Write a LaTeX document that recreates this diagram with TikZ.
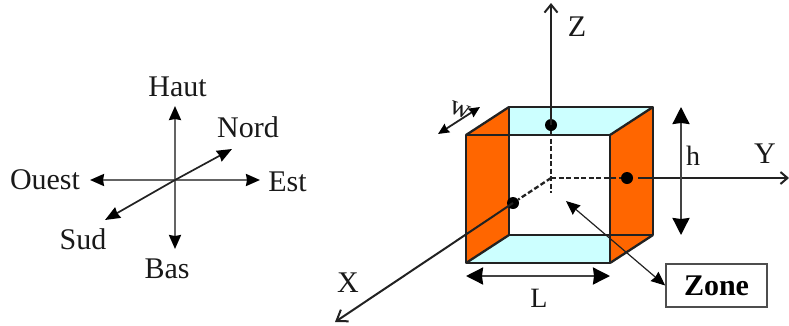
\documentclass[tikz,border=0pt]{standalone}
\usepackage{fontspec}
\setmainfont{Liberation Serif}
\usetikzlibrary{arrows.meta}
\definecolor{zorange}{HTML}{FF6600}
\definecolor{zcyan}{HTML}{CCFFFF}
\definecolor{zline}{HTML}{222222}
\tikzset{
  lbl/.style={inner sep=0pt,font=\fontsize{30}{30}\selectfont,text=black!90},
  smalllbl/.style={inner sep=0pt,font=\fontsize{28}{28}\selectfont,text=black!90},
  dimline/.style={draw=zline!85,line width=2.2pt,{Stealth[inset=1pt,length=17pt,width=17pt,black]}-{Stealth[inset=1pt,length=17pt,width=17pt,black]}},
  compass/.style={draw=zline!70,line width=2.2pt,-{Stealth[inset=1pt,length=14pt,width=12pt,black]}},
  compassdiag/.style={draw=zline,line width=1.7pt,-{Stealth[inset=1pt,length=15pt,width=12pt,black]}},
  face/.style={draw=zline,line width=2.3pt,line join=round},
  dashaxis/.style={draw=zline,line width=2.3pt,dash pattern=on 5pt off 2.5pt},
  dotnode/.style={circle,fill=black,inner sep=0pt,minimum size=12pt},
}
\begin{document}
\begin{tikzpicture}[x=1pt,y=-1pt]
\useasboundingbox (0,0) rectangle (789,325);
% compass
\coordinate (c) at (175,180);
\coordinate (ch) at (175,106);
\coordinate (cb) at (175,249);
\coordinate (co) at (90,180);
\coordinate (ce) at (260,180);
\coordinate (cn) at (232,149);
\coordinate (cs) at (105,220);
\foreach \t in {ch,cb,co,ce} \draw[compass] (c) -- (\t);
\foreach \t in {cn,cs} \draw[compassdiag] (c) -- (\t);
\node[lbl] (haut) at (177.5,86.5) {Haut};
\node[lbl] (nord) at (248,127) {Nord};
\node[lbl] (ouest) at (45,180) {Ouest};
\node[lbl] (est) at (287.5,182) {Est};
\node[lbl] (sud) at (83,239) {Sud};
\node[lbl] (bas) at (167,269) {Bas};
% box
\coordinate (bt1) at (509,107);
\coordinate (bt2) at (653,107);
\coordinate (bb1) at (509,235);
\coordinate (bb2) at (653,235);
\coordinate (ft1) at (466,135);
\coordinate (ft2) at (610,135);
\coordinate (fb1) at (466,263);
\coordinate (fb2) at (610,263);
\fill[zcyan] (bt1)--(bt2)--(ft2)--(ft1)--cycle;
\fill[zcyan] (bb1)--(bb2)--(fb2)--(fb1)--cycle;
\fill[zorange] (ft1)--(bt1)--(bb1)--(fb1)--cycle;
\fill[zorange] (ft2)--(bt2)--(bb2)--(fb2)--cycle;
\draw[face] (ft1)--(ft2)--(fb2)--(fb1)--cycle;
\draw[face] (bt1)--(bt2)--(bb2)--(bb1)--cycle;
\draw[face] (ft1)--(bt1) (ft2)--(bt2) (fb1)--(bb1) (fb2)--(bb2);
% axes
\coordinate (o) at (551,178);
\node[dotnode] (dz) at (551,125) {};
\node[dotnode] (dy) at (627,178) {};
\node[dotnode] (dx) at (513,203) {};
\coordinate (zt) at (551,3);
\coordinate (yt) at (789,178);
\coordinate (ys) at (638,178);
\coordinate (xt) at (335,322);
\coordinate (zb) at (551,193);
\draw[dashaxis] (dz) -- (zb);
\draw[dashaxis] (o) -- (dy);
\draw[dashaxis] (o) -- (dx);
\draw[draw=zline,line width=2pt,-{Straight Barb[length=8pt,width=13pt]}] (dz.center) -- (zt);
\draw[draw=zline,line width=2pt,-{Straight Barb[length=7pt,width=12pt]}] (ys) -- (yt);
\draw[draw=zline,line width=2pt,-{Straight Barb[length=10pt,width=14pt]}] (dx.center) -- (xt);
% dimensions
\coordinate (w1) at (438,134);
\coordinate (w2) at (480,107);
\draw[draw=zline,line width=1.8pt,{Stealth[inset=1pt,length=11pt,width=10pt,black]}-{Stealth[inset=1pt,length=11pt,width=10pt,black]}] (w1) -- (w2);
\coordinate (l1) at (466,276);
\coordinate (l2) at (610,276);
\draw[dimline] (l1) -- (l2);
\coordinate (h1) at (681,107);
\coordinate (h2) at (681,235);
\draw[dimline] (h1) -- (h2);
\node[lbl] (z) at (577,27) {Z};
\node[lbl] (y) at (765,154) {Y};
\node[lbl] (x) at (348,283) {X};
\node[smalllbl] (h) at (693,156) {h};
\node[smalllbl] (l) at (539,298) {L};
\node[smalllbl,rotate=-20] (w) at (460,110) {w};
% zone
\node[draw=zline!80,line width=1.6pt,fill=white,minimum width=101pt,minimum height=43pt,inner sep=0pt,font=\bfseries\fontsize{30}{30}\selectfont] (zone) at (716.5,285.5) {Zone};
\coordinate (za) at (566,201);
\draw[draw=zline,line width=1.2pt,{Stealth[inset=1pt,length=14pt,width=12pt,black]}-{Stealth[inset=1pt,length=14pt,width=12pt,black]}] (za) -- (zone.west);
\end{tikzpicture}
\end{document}
